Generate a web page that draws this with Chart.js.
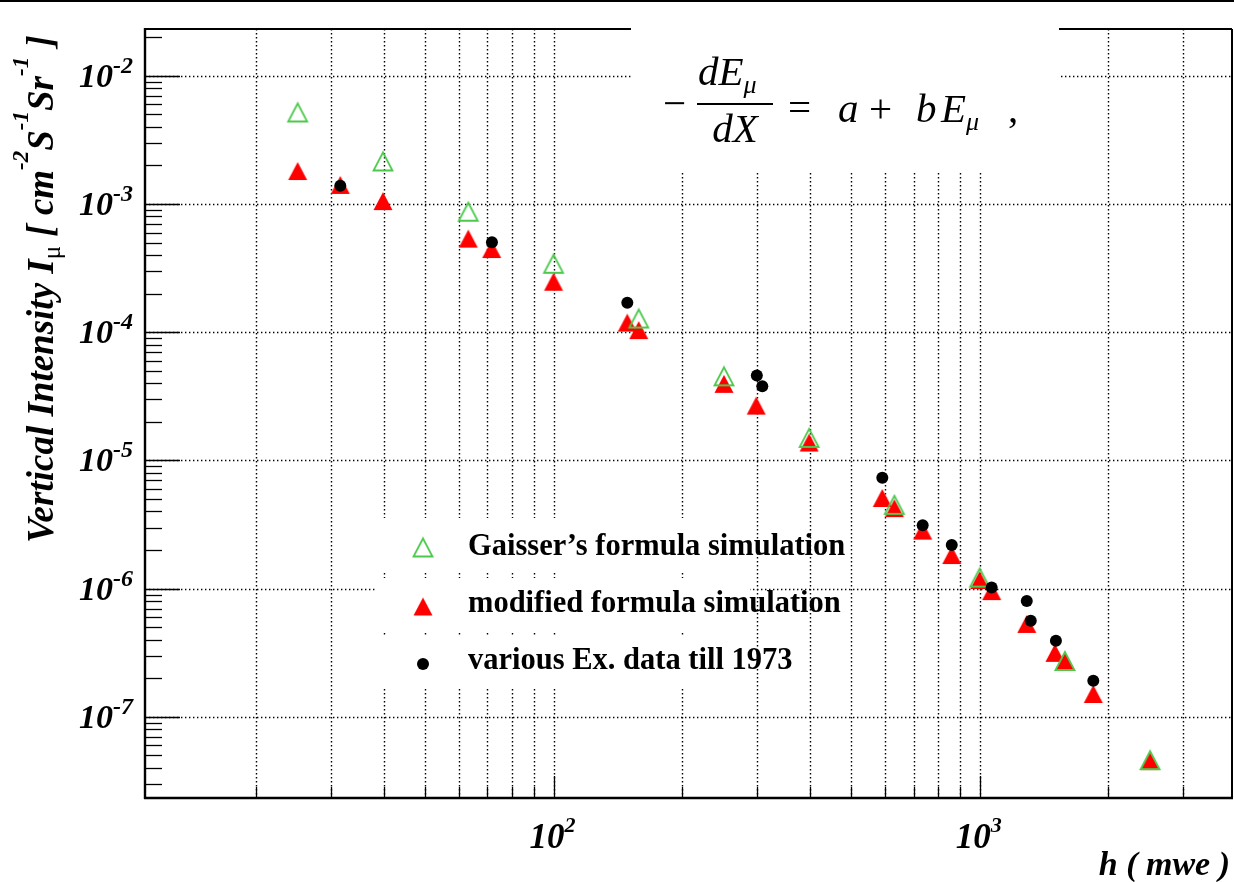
<!DOCTYPE html>
<html>
<head>
<meta charset="utf-8">
<script src="https://cdn.jsdelivr.net/npm/chart.js@4.4.0/dist/chart.umd.min.js"></script>
<style>
  html, body { margin: 0; padding: 0; background: #fff; }
  #wrap { width: 1234px; height: 882px; }
</style>
</head>
<body>
<div id="wrap"><canvas id="chart" width="1234" height="882"></canvas></div>
<script>
// Gaisser's formula simulation (open green triangles)
const gaisserDepth = [25.1, 39.8, 63.1, 100, 158.5, 251.2, 398.1, 631, 1000, 1585, 2512];
const gaisserIntensity = [5.18e-3, 2.15e-3, 8.72e-4, 3.42e-4, 1.28e-4, 4.53e-5, 1.50e-5, 4.51e-6, 1.22e-6, 2.73e-7, 4.6e-8];

// modified formula simulation (full red triangles)
const modifiedDepth = [25.1, 31.6, 39.8, 63.1, 71.6, 100, 149, 158.5, 251.2, 299, 398.1, 591, 631, 735, 860, 1000, 1067, 1290, 1502, 1585, 1848, 2512];
const modifiedIntensity = [1.81e-3, 1.41e-3, 1.055e-3, 5.38e-4, 4.46e-4, 2.48e-4, 1.19e-4, 1.04e-4, 3.96e-5, 2.68e-5, 1.38e-5, 5.1e-6, 4.25e-6, 2.84e-6, 1.83e-6, 1.17e-6, 9.58e-7, 5.31e-7, 3.16e-7, 2.72e-7, 1.51e-7, 4.52e-8];

// various Ex. data till 1973 (black dots)
const exDepth = [31.6, 71.7, 149, 300, 309, 591, 735, 860, 1067, 1290, 1318, 1510, 1848];
const exIntensity = [1.39e-3, 5.03e-4, 1.70e-4, 4.61e-5, 3.80e-5, 7.33e-6, 3.13e-6, 2.19e-6, 1.02e-6, 8.0e-7, 5.62e-7, 3.92e-7, 1.91e-7];

// axes
const xMin = 11, xMax = 3910;
const yMin = 2.33e-8, yMax = 2.32e-2;
const xMajorValues = [100, 1000];
const xMajorExp = ['2', '3'];
const xMinorValues = [20, 30, 40, 50, 60, 70, 80, 90, 200, 300, 400, 500, 600, 700, 800, 900, 2000, 3000];
const yMajorValues = [1e-7, 1e-6, 1e-5, 1e-4, 1e-3, 1e-2];
const yMajorExp = ['-7', '-6', '-5', '-4', '-3', '-2'];

const legendLabels = ['Gaisser\u2019s formula simulation', 'modified formula simulation', 'various Ex. data till 1973'];

const SERIF = '"Liberation Serif", "Times New Roman", serif';

function toPoints(xs, ys) {
    return xs.map((v, i) => ({ x: v, y: ys[i] }));
}

// marqueurs type ROOT
function makeTriangle(fill, stroke) {
    const c = document.createElement('canvas');
    c.width = 24; c.height = 24;
    const g = c.getContext('2d');
    g.beginPath();
    g.moveTo(12, 3); g.lineTo(2.5, 21); g.lineTo(21.5, 21); g.closePath();
    if (fill) { g.fillStyle = fill; g.fill(); }
    if (stroke) { g.strokeStyle = stroke; g.lineWidth = 1.8; g.stroke(); }
    return c;
}
const greenTri = makeTriangle(null, '#4cc94c');
const redTri = makeTriangle('#ff0000', null);

// minor ticks 2..9 of each decade inside a range
function minorTicks(lo, hi) {
    const out = [];
    for (let e = Math.floor(Math.log10(lo)); e <= Math.ceil(Math.log10(hi)); e++) {
        for (let m = 2; m <= 9; m++) {
            const v = m * Math.pow(10, e);
            if (v > lo && v < hi) out.push(v);
        }
    }
    return out;
}

function line(ctx, x1, y1, x2, y2) {
    ctx.beginPath(); ctx.moveTo(x1, y1); ctx.lineTo(x2, y2); ctx.stroke();
}

function drawRich(ctx, parts, x, y) {
    let cx = x;
    parts.forEach(([t, f, dy]) => {
        ctx.font = f;
        ctx.fillText(t, cx, y + dy);
        cx += ctx.measureText(t).width;
    });
    return cx - x;
}

const rootStyle = {
    id: 'rootStyle',
    beforeDraw(chart) {
        const ctx = chart.ctx;
        ctx.save();
        ctx.fillStyle = '#fff';
        ctx.fillRect(0, 0, chart.width, chart.height);
        ctx.restore();
    },
    beforeDatasetsDraw(chart) {
        const { ctx, chartArea: a, scales: { x, y } } = chart;
        ctx.save();
        ctx.strokeStyle = '#000';
        ctx.lineWidth = 1.4;
        ctx.setLineDash([1.4, 2.6]);
        xMinorValues.concat(xMajorValues).forEach(v => {
            const px = Math.round(x.getPixelForValue(v)) + 0.5;
            line(ctx, px, a.top, px, a.bottom);
        });
        yMajorValues.forEach(v => {
            const py = Math.round(y.getPixelForValue(v)) + 0.5;
            line(ctx, a.left, py, a.right, py);
        });
        ctx.restore();
    },
    afterDatasetsDraw(chart) {
        const { ctx, chartArea: a, scales: { x, y } } = chart;
        ctx.save();
        ctx.strokeStyle = '#000';
        ctx.setLineDash([]);

        // ticks
        ctx.lineWidth = 1.3;
        yMajorValues.forEach(v => { const py = Math.round(y.getPixelForValue(v)) + 0.5; line(ctx, a.left, py, a.left + 35, py); });
        minorTicks(yMin, yMax).forEach(v => { const py = Math.round(y.getPixelForValue(v)) + 0.5; line(ctx, a.left, py, a.left + 17, py); });
        xMajorValues.forEach(v => { const px = Math.round(x.getPixelForValue(v)) + 0.5; line(ctx, px, a.bottom, px, a.bottom - 22); });
        xMinorValues.forEach(v => { const px = Math.round(x.getPixelForValue(v)) + 0.5; line(ctx, px, a.bottom, px, a.bottom - 11); });

        // cadre
        ctx.lineWidth = 2;
        line(ctx, a.left, a.top, a.right, a.top);
        line(ctx, a.right, a.top, a.right, a.bottom);
        ctx.lineWidth = 2.4;
        line(ctx, a.left, a.top - 1, a.left, a.bottom + 1);
        line(ctx, a.left - 1, a.bottom, a.right + 1, a.bottom);
        ctx.lineWidth = 2;
        line(ctx, 0, 1, chart.width, 1);

        // boites blanches (formule + legende)
        ctx.fillStyle = '#fff';
        ctx.fillRect(631, 3, 428, 169);
        [[518, 55], [578, 54], [637, 51]].forEach(([top, h]) => ctx.fillRect(375, top, 375, h));

        // formule
        ctx.fillStyle = '#000';
        ctx.textBaseline = 'alphabetic';
        ctx.textAlign = 'left';
        const it40 = 'italic 41px ' + SERIF;
        const up40 = '41px ' + SERIF;
        const it24 = 'italic 26px ' + SERIF;
        ctx.font = up40;
        ctx.fillText('\u2212', 663, 117);
        drawRich(ctx, [['dE', it40, 0], ['\u03bc', it24, 8]], 698, 85);
        ctx.fillRect(697, 103, 76, 2);
        ctx.font = it40;
        ctx.textAlign = 'center';
        ctx.fillText('dX', 735, 142);
        ctx.textAlign = 'left';
        ctx.font = up40;
        ctx.fillText('=', 788, 121);
        ctx.font = it40;
        ctx.fillText('a', 838, 122);
        ctx.font = up40;
        ctx.fillText('+', 869, 122);
        drawRich(ctx, [['b', it40, 0]], 916, 122);
        drawRich(ctx, [['E', it40, 0], ['\u03bc', it24, 8]], 941, 122);
        ctx.font = up40;
        ctx.fillText(',', 1008, 122);

        // legende
        const mx = 423;
        const rows = [547.5, 606.5, 664];
        ctx.drawImage(greenTri, mx - 12, rows[0] - 12);
        ctx.drawImage(redTri, mx - 12, rows[1] - 12);
        ctx.beginPath(); ctx.arc(mx, rows[2], 6, 0, Math.PI * 2); ctx.fill();
        ctx.font = 'bold 30.5px ' + SERIF;
        [555, 612, 669].forEach((b, i) => ctx.fillText(legendLabels[i], 468, b));
        ctx.restore();
    },
    afterDraw(chart) {
        const { ctx, chartArea: a, scales: { x, y } } = chart;
        ctx.save();
        ctx.fillStyle = '#000';
        ctx.textBaseline = 'alphabetic';
        ctx.textAlign = 'left';

        // labels axe Y
        const yBig = 'bold italic 34px ' + SERIF, ySup = 'bold italic 24px ' + SERIF;
        yMajorValues.forEach((v, i) => {
            const py = y.getPixelForValue(v);
            ctx.font = yBig; const w1 = ctx.measureText('10').width;
            ctx.font = ySup; const w2 = ctx.measureText(yMajorExp[i]).width;
            const x0 = 133 - w1 - w2;
            ctx.font = yBig; ctx.fillText('10', x0, py + 11);
            ctx.font = ySup; ctx.fillText(yMajorExp[i], x0 + w1, py - 3);
        });

        // labels axe X
        const xBig = 'bold italic 35px ' + SERIF, xSup = 'bold italic 22px ' + SERIF;
        xMajorValues.forEach((v, i) => {
            const px = x.getPixelForValue(v);
            ctx.font = xBig; const w1 = ctx.measureText('10').width;
            ctx.font = xSup; const w2 = ctx.measureText(xMajorExp[i]).width;
            const x0 = px - (w1 + w2) / 2 - 1;
            ctx.font = xBig; ctx.fillText('10', x0, 848);
            ctx.font = xSup; ctx.fillText(xMajorExp[i], x0 + w1, 832);
        });

        // titres
        ctx.font = 'bold italic 34px ' + SERIF;
        ctx.textAlign = 'right';
        ctx.fillText('h ( mwe )', 1230, 875);
        ctx.textAlign = 'left';

        const T = 'bold italic 37px ' + SERIF, S = 'bold italic 23px ' + SERIF;
        ctx.translate(53, 543);
        ctx.rotate(-Math.PI / 2);
        drawRich(ctx, [
            ['Vertical Intensity I', T, 0],
            ['\u03bc', '25px ' + SERIF, 7],
            [' [ cm', T, 0],
            ['-2', S, -25],
            ['S', T, 0],
            ['-1', S, -25],
            ['Sr', T, 0],
            ['-1', S, -25],
            [' ]', T, 0]
        ], 0, 0);
        ctx.restore();
    }
};

const ctx = document.getElementById('chart').getContext('2d');
new Chart(ctx, {
    type: 'scatter',
    data: {
        datasets: [
            {
                label: legendLabels[2],
                data: toPoints(exDepth, exIntensity),
                pointStyle: 'circle', pointRadius: 6,
                backgroundColor: '#000', borderColor: '#000', borderWidth: 0,
                order: 1
            },
            {
                label: legendLabels[0],
                data: toPoints(gaisserDepth, gaisserIntensity),
                pointStyle: greenTri, pointRadius: 10,
                order: 2
            },
            {
                label: legendLabels[1],
                data: toPoints(modifiedDepth, modifiedIntensity),
                pointStyle: redTri, pointRadius: 10,
                order: 3
            }
        ]
    },
    options: {
        responsive: false,
        animation: false,
        devicePixelRatio: 1,
        layout: { autoPadding: false, padding: { top: 29, right: 2, left: 0, bottom: 0 } },
        plugins: { legend: { display: false }, tooltip: { enabled: false } },
        scales: {
            x: {
                type: 'logarithmic', min: xMin, max: xMax,
                ticks: { display: false },
                grid: { display: false },
                border: { display: false },
                afterFit: s => { s.height = 84; }
            },
            y: {
                type: 'logarithmic', min: yMin, max: yMax,
                ticks: { display: false },
                grid: { display: false },
                border: { display: false },
                afterFit: s => { s.width = 145; }
            }
        }
    },
    plugins: [rootStyle]
});
</script>
</body>
</html>
